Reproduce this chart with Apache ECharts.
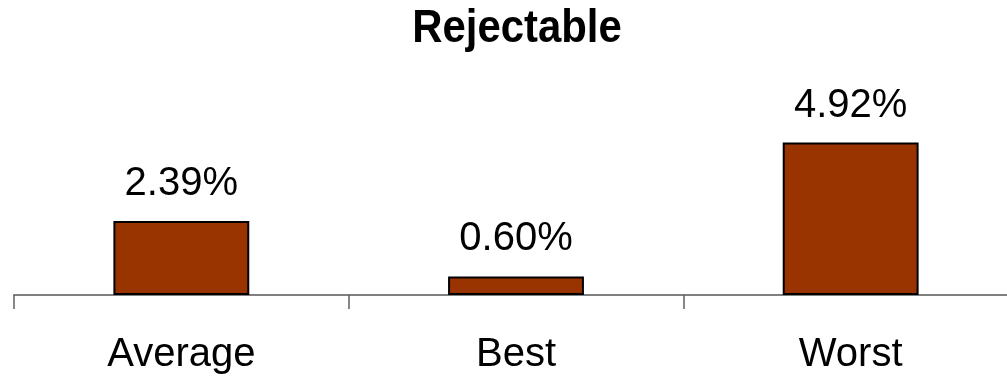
<!DOCTYPE html>
<html>
<head>
<meta charset="utf-8">
<script src="https://cdn.jsdelivr.net/npm/echarts@6/dist/echarts.min.js"></script>
<style>
  html, body { margin: 0; padding: 0; background: #fff; }
  #chart { width: 1007px; height: 379px; }
</style>
</head>
<body>
<div id="chart"></div>
<script>
// Share of rejectable items by scenario (percent)
const categories = ['Average', 'Best', 'Worst'];
const rejectablePct = [2.39, 0.60, 4.92];
const chartTitle = 'Rejectable';

const chart = echarts.init(document.getElementById('chart'));
chart.setOption({
  animation: false,
  backgroundColor: '#ffffff',
  // Narrow bold heading: Arial-metric bold squeezed horizontally
  graphic: [{
    type: 'text',
    x: 517,
    y: 29,
    scaleX: 0.91,
    style: {
      text: chartTitle,
      x: 0,
      y: 0,
      align: 'center',
      verticalAlign: 'middle',
      fontFamily: '"Liberation Sans", Arial, sans-serif',
      fontWeight: 'bold',
      fontSize: 46,
      fill: '#000'
    }
  }],
  grid: {
    left: 14, top: 109, width: 1004, height: 186,
    containLabel: false,
    outerBoundsMode: 'none'
  },
  xAxis: {
    type: 'category',
    data: categories,
    axisLine: { lineStyle: { color: '#808080', width: 2 } },
    axisTick: { show: true, length: 14, lineStyle: { color: '#606060', width: 1.5 } },
    axisLabel: {
      margin: 40,
      fontFamily: '"Liberation Sans", Arial, sans-serif',
      fontSize: 40,
      color: '#000'
    }
  },
  yAxis: {
    type: 'value',
    min: 0,
    max: 6,
    show: false,
    splitLine: { show: false }
  },
  series: [{
    type: 'bar',
    data: rejectablePct,
    barWidth: '40.6%',
    itemStyle: { color: '#993300', borderColor: '#000', borderWidth: 2 },
    label: {
      show: true,
      position: 'top',
      distance: 17,
      formatter: p => p.value.toFixed(2) + '%',
      fontFamily: '"Liberation Sans", Arial, sans-serif',
      fontSize: 40,
      color: '#000'
    }
  }]
});
</script>
</body>
</html>
